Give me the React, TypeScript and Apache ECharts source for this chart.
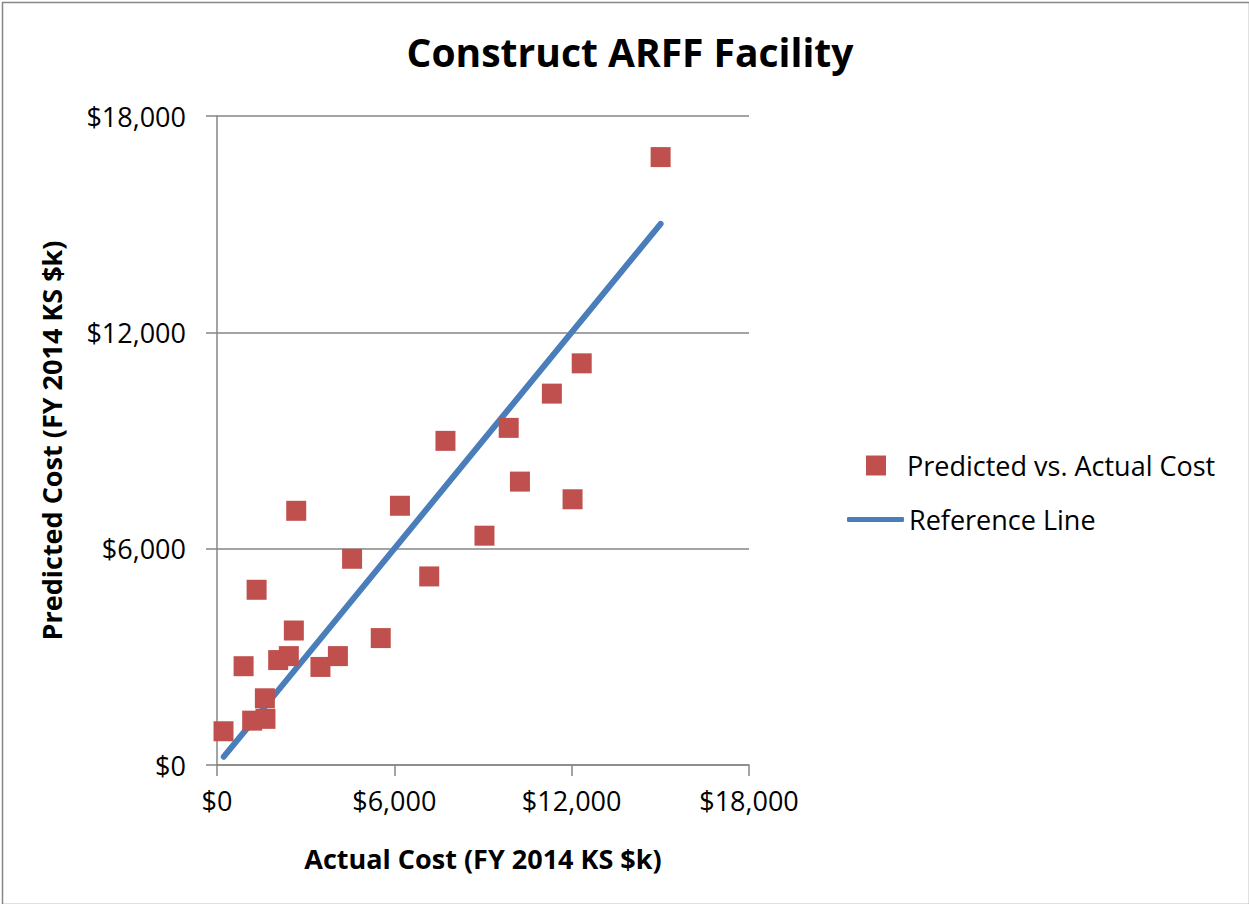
import React, { useEffect, useRef } from "react";
import * as echarts from "echarts";

const actualCost: number[] = [
  220, 1190, 1640, 1620, 900, 2070, 2430, 2600, 3500, 4090, 5540, 1340,
  4570, 2680, 6190, 7180, 7730, 9870, 11330, 10250, 12030, 9050, 12340, 15010,
];
const predictedCost: number[] = [
  936, 1230, 1280, 1850, 2740, 2910, 3020, 3730, 2720, 3020, 3520, 4860,
  5720, 7050, 7190, 5230, 8990, 9350, 10300, 7860, 7370, 6360, 11140, 16860,
];
const referenceLine: [number, number][] = [
  [230, 230],
  [15010, 15010],
];
const axisTicks: number[] = [0, 6000, 12000, 18000];

const FONT = "'Open Sans', 'Liberation Sans', sans-serif";

function money(v: number): string {
  return "$" + v.toLocaleString("en-US");
}

export default function App() {
  const ref = useRef<HTMLDivElement>(null);
  useEffect(() => {
    if (!ref.current) return;
    const chart = echarts.init(ref.current, undefined, { renderer: "svg" });
    const scatterData = actualCost.map((x, i) => [x, predictedCost[i]]);
    const axisLineStyle = { color: "#868686", width: 1.5 };
    chart.setOption({
      animation: false,
      backgroundColor: "#ffffff",
      title: {
        text: "Construct ARFF Facility",
        left: 625,
        top: 27,
        textAlign: "center",
        textStyle: { fontFamily: FONT, fontWeight: "bold", fontSize: 39, color: "#000" },
      },
      grid: { left: 217, right: 500, top: 116, bottom: 139, containLabel: false },
      xAxis: {
        type: "value",
        min: axisTicks[0],
        max: axisTicks[axisTicks.length - 1],
        interval: 6000,
        name: "Actual Cost (FY 2014 KS $k)",
        nameLocation: "middle",
        nameGap: 80,
        nameTextStyle: { fontFamily: FONT, fontWeight: "bold", fontSize: 27, color: "#000" },
        axisLine: { show: true, onZero: false, lineStyle: axisLineStyle },
        axisTick: { show: true, length: 11, inside: false, lineStyle: axisLineStyle },
        splitLine: { show: false },
        axisLabel: {
          margin: 22,
          fontFamily: FONT,
          fontSize: 27,
          color: "#000",
          formatter: (v: number) => money(v),
        },
      },
      yAxis: {
        type: "value",
        min: axisTicks[0],
        max: axisTicks[axisTicks.length - 1],
        interval: 6000,
        name: "Predicted Cost (FY 2014 KS $k)",
        nameLocation: "middle",
        nameGap: 152,
        nameRotate: 90,
        nameTextStyle: { fontFamily: FONT, fontWeight: "bold", fontSize: 27, color: "#000" },
        axisLine: { show: true, onZero: false, lineStyle: axisLineStyle },
        axisTick: { show: true, length: 11, lineStyle: axisLineStyle },
        splitLine: { show: true, lineStyle: { color: "#868686", width: 1.5 } },
        axisLabel: {
          margin: 31,
          fontFamily: FONT,
          fontSize: 27,
          color: "#000",
          formatter: (v: number) => money(v),
        },
      },
      legend: [
        {
          data: [{ name: "Predicted vs. Actual Cost", icon: "rect" }],
          left: 861,
          top: 447,
          itemWidth: 20,
          itemHeight: 20,
          textStyle: { fontFamily: FONT, fontSize: 27, color: "#000", padding: [0, 0, 0, 16] },
        },
        {
          data: [{ name: "Reference Line", icon: "roundRect" }],
          left: 842,
          top: 501,
          itemWidth: 57,
          itemHeight: 5,
          textStyle: { fontFamily: FONT, fontSize: 27, color: "#000" },
        },
      ],
      series: [
        {
          name: "Reference Line",
          type: "line",
          data: referenceLine,
          showSymbol: false,
          symbol: "none",
          lineStyle: { color: "#4A7EBB", width: 6, cap: "round" },
          itemStyle: { color: "#4A7EBB" },
          z: 2,
        },
        {
          name: "Predicted vs. Actual Cost",
          type: "scatter",
          data: scatterData,
          symbol: "rect",
          symbolSize: 20,
          itemStyle: { color: "#C0504D", opacity: 1 },
          z: 3,
        },
      ],
      graphic: [
        {
          type: "rect",
          left: 0,
          top: 0,
          shape: { x: 0.5, y: 0.5, width: 1247, height: 902 },
          style: { fill: "none", stroke: "#868686", lineWidth: 1.5 },
          silent: true,
        },
      ],
    });
    return () => chart.dispose();
  }, []);
  return (
    <div
      ref={ref}
      style={{ position: "fixed", left: 0, top: 0, width: 1249, height: 904 }}
    />
  );
}
